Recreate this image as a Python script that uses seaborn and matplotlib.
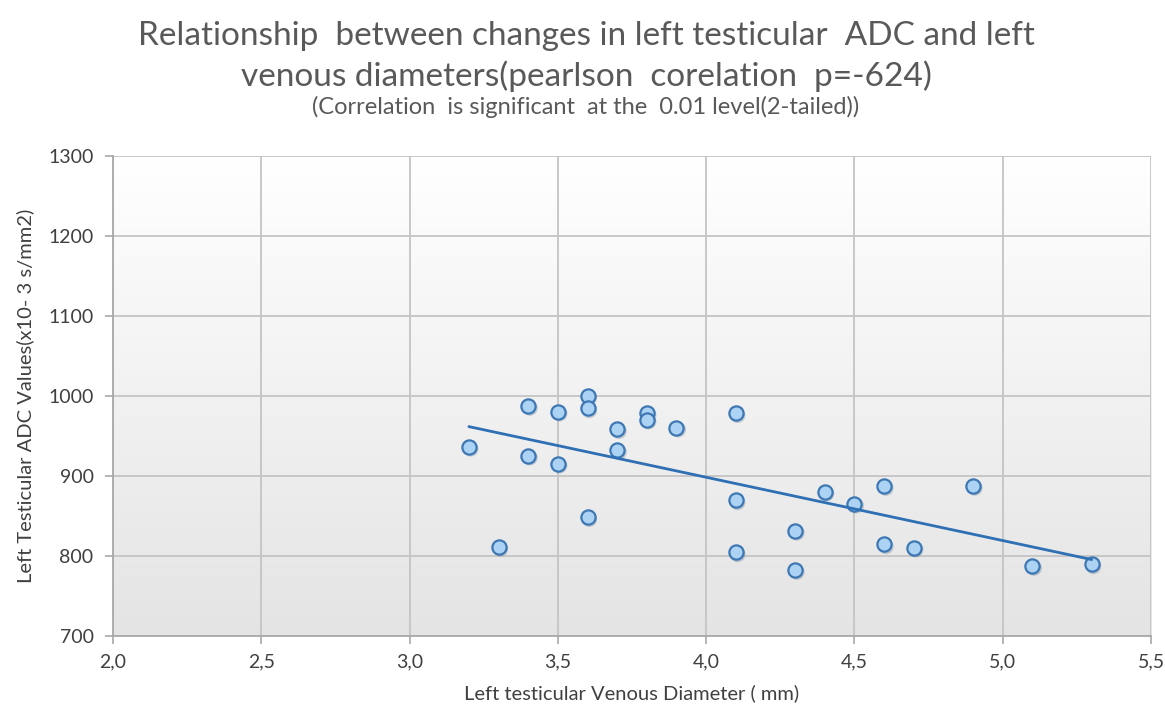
import numpy as np
import pandas as pd
import matplotlib
matplotlib.use("Agg")
import matplotlib.pyplot as plt
import seaborn as sns
from matplotlib.colors import LinearSegmentedColormap

venous_diameter = [3.2, 3.3, 3.4, 3.4, 3.5, 3.5, 3.6, 3.6, 3.6, 3.7, 3.7, 3.8, 3.8, 3.9,
                   4.1, 4.1, 4.1, 4.3, 4.3, 4.4, 4.5, 4.6, 4.6, 4.7, 4.9, 5.1, 5.3]
adc_values = [936, 811, 987, 925, 980, 915, 1000, 984, 848, 958, 932, 978, 970, 960,
              978, 869, 804, 831, 782, 880, 865, 887, 814, 810, 887, 787, 789]
x_ticks = [2.0, 2.5, 3.0, 3.5, 4.0, 4.5, 5.0, 5.5]
x_tick_labels = ["2,0", "2,5", "3,0", "3,5", "4,0", "4,5", "5,0", "5,5"]
y_ticks = [700, 800, 900, 1000, 1100, 1200, 1300]

df = pd.DataFrame({"diam": venous_diameter, "adc": adc_values})

sns.set_theme(style="white")
plt.rcParams["font.family"] = ["Lato", "DejaVu Sans"]

fig = plt.figure(figsize=(11.65, 7.11), dpi=100)
ax = fig.add_axes([0.097, 0.106, 0.891, 0.675])

# gradient background of the plot area: white at top, light grey at bottom
grad = np.linspace(0.0, 1.0, 256).reshape(-1, 1)
cmap = LinearSegmentedColormap.from_list("bg", ["#e4e4e4", "#ffffff"])
ax.imshow(grad, extent=[2.0, 5.5, 700, 1300], aspect="auto", cmap=cmap,
          origin="lower", zorder=0, vmin=0, vmax=1)

# soft shadow beneath the markers
ax.scatter(df["diam"] + 0.006, df["adc"] - 2.5, s=125, color="#1f3f66", alpha=0.22,
           edgecolors="none", zorder=2)

sns.regplot(data=df, x="diam", y="adc", ci=None, truncate=True, ax=ax,
            scatter_kws=dict(s=105, color="#acd3f3", edgecolors="#3d78b4",
                             linewidths=1.6, alpha=1, zorder=3),
            line_kws=dict(color="#2f6fb4", linewidth=2, zorder=4))

ax.set_xlim(2.0, 5.5)
ax.set_ylim(700, 1300)
ax.set_xticks(x_ticks)
ax.set_xticklabels(x_tick_labels)
ax.set_yticks(y_ticks)
ax.grid(True, color="#c4c4c4", linewidth=1.3, zorder=1)
ax.set_axisbelow(True)
for s in ["top", "right"]:
    ax.spines[s].set_visible(False)
for s in ["left", "bottom"]:
    ax.spines[s].set_color("#a8a8a8")
    ax.spines[s].set_linewidth(1.3)
ax.tick_params(axis="both", colors="#a8a8a8", length=6, width=1.2,
               labelcolor="#404040", labelsize=14, bottom=True, left=True)
ax.tick_params(axis="y", pad=8)
ax.tick_params(axis="x", pad=7)

ax.set_xlabel("Left testicular Venous Diameter ( mm)", fontsize=14.5, color="#404040",
              labelpad=10)
ax.set_ylabel("Left Testicular ADC Values(x10- 3 s/mm2)", fontsize=14.5, color="#404040",
              labelpad=10)

fig.text(0.503, 0.950, "Relationship  between changes in left testicular  ADC and left",
         ha="center", va="center", fontsize=24, color="#595959")
fig.text(0.503, 0.893, "venous diameters(pearlson  corelation  p=-624)",
         ha="center", va="center", fontsize=24, color="#595959")
fig.text(0.503, 0.850, "(Correlation  is significant  at the  0.01 level(2-tailed))",
         ha="center", va="center", fontsize=17, color="#595959")

fig.savefig("out.png", dpi=100)
